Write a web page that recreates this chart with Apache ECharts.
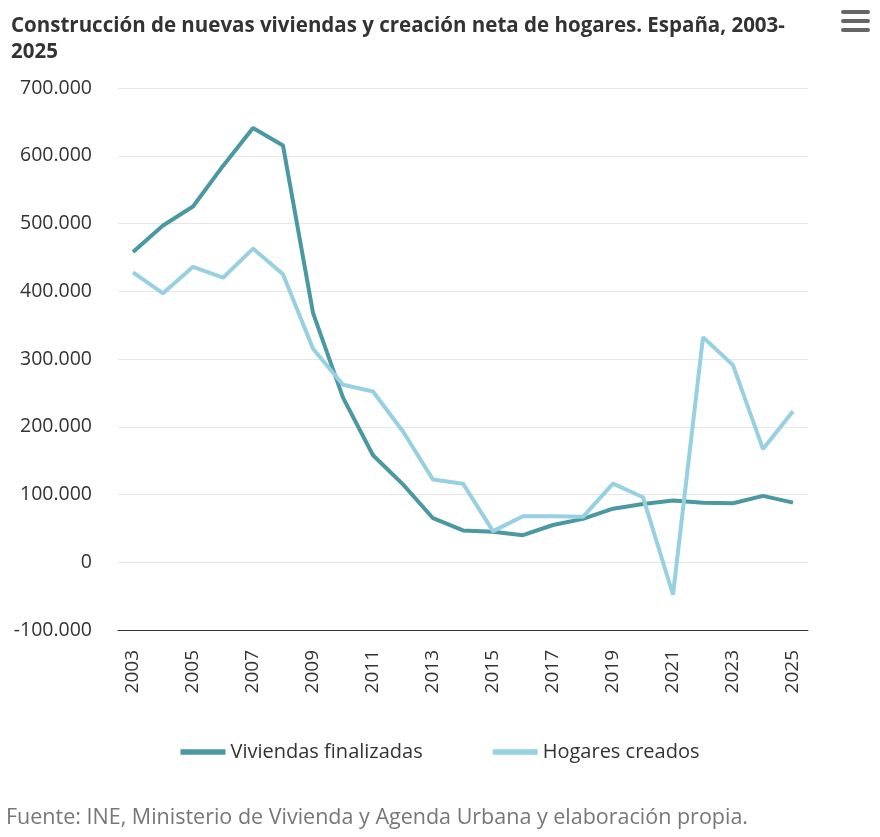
<!DOCTYPE html>
<html><head><meta charset="utf-8">
<script src="https://cdn.jsdelivr.net/npm/echarts@6/dist/echarts.min.js"></script>
<style>body{margin:0}#c{width:880px;height:837px}</style></head>
<body><div id="c"></div>
<script>
const years = ['2003','2004','2005','2006','2007','2008','2009','2010','2011','2012','2013','2014','2015','2016','2017','2018','2019','2020','2021','2022','2023','2024','2025'];
const viviendas = [458000,497000,525000,585000,641000,615000,368000,243000,158000,115000,65000,47000,45000,40000,55000,64000,79000,86000,91000,88000,87000,98000,88000];
const hogares = [428000,397000,436000,420000,463000,425000,315000,262000,252000,193000,122000,116000,46000,68000,68000,67000,116000,96000,-48000,332000,291000,167000,223000];
const fmt = v => (v<0?'-':'') + Math.abs(v).toString().replace(/\B(?=(\d{3})+(?!\d))/g,'.');
const f = '"Open Sans", sans-serif';
const chart = echarts.init(document.getElementById('c'));
chart.setOption({
  animation:false,
  textStyle:{fontFamily:f},
  title:{text:'Construcción de nuevas viviendas y creación neta de hogares. España, 2003-\n2025',left:6,top:8,
    textStyle:{fontSize:20.5,fontWeight:'bold',color:'#333',lineHeight:26,fontFamily:f}},
  legend:{bottom:70,left:'center',itemWidth:45,itemGap:70,icon:'path://M0,0 H40 V5 H0 Z',
    textStyle:{fontSize:20,color:'#333',fontFamily:f}},
  graphic:[
    {type:'text',left:6,bottom:8,style:{text:'Fuente: INE, Ministerio de Vivienda y Agenda Urbana y elaboración propia.',fontSize:21.5,fill:'#777',fontFamily:f}},
    {type:'rect',left:841,top:10,shape:{width:29,height:4,r:2},style:{fill:'#666'}},
    {type:'rect',left:841,top:19,shape:{width:29,height:4,r:2},style:{fill:'#666'}},
    {type:'rect',left:841,top:28,shape:{width:29,height:4,r:2},style:{fill:'#666'}}
  ],
  grid:{left:118,right:72,top:88,bottom:207},
  xAxis:{type:'category',data:years,boundaryGap:true,
    axisLine:{lineStyle:{color:'#333'},onZero:false},axisTick:{show:false},
    axisLabel:{rotate:90,interval:1,fontSize:19,color:'#333',margin:20}},
  yAxis:{type:'value',min:-100000,max:700000,interval:100000,
    axisLabel:{formatter:fmt,fontSize:19.5,color:'#333',margin:26},
    splitLine:{lineStyle:{color:'#e6e6e6'}}},
  series:[
    {name:'Viviendas finalizadas',type:'line',data:viviendas,symbol:'none',lineStyle:{width:4,color:'#4a98a2'},itemStyle:{color:'#4a98a2'}},
    {name:'Hogares creados',type:'line',data:hogares,symbol:'none',lineStyle:{width:4,color:'#97d0e1'},itemStyle:{color:'#97d0e1'}}
  ]
});
</script></body></html>
